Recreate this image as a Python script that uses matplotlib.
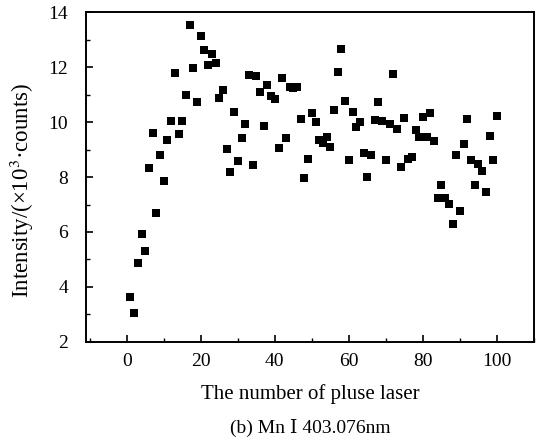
import matplotlib
matplotlib.use("Agg")
import matplotlib.pyplot as plt
from matplotlib.ticker import MultipleLocator

pulse = list(range(1, 101))
intensity = [
    3.64, 3.03, 4.88, 5.93, 5.30, 8.32, 9.60, 6.68, 8.81, 7.85,
    9.37, 10.04, 11.78, 9.58, 10.04, 11.00, 13.53, 11.96, 10.72, 13.14,
    12.64, 12.08, 12.49, 12.16, 10.89, 11.16, 9.01, 8.18, 10.38, 8.58,
    9.43, 9.92, 11.72, 8.44, 11.67, 11.11, 9.88, 11.34, 10.96, 10.84,
    9.06, 11.60, 9.41, 11.28, 11.26, 11.28, 10.10, 7.95, 8.67, 10.33,
    10.00, 9.36, 9.25, 9.46, 9.08, 10.43, 11.83, 12.67, 10.77, 8.64,
    10.38, 9.81, 10.01, 8.89, 8.00, 8.79, 10.07, 10.72, 10.05, 8.61,
    9.94, 11.76, 9.75, 8.35, 10.14, 8.67, 8.75, 9.71, 9.47, 10.20,
    9.47, 10.33, 9.32, 7.24, 7.71, 7.24, 7.03, 6.28, 8.80, 6.75,
    9.21, 10.11, 8.62, 7.70, 8.46, 8.24, 7.45, 9.48, 8.63, 10.21,
]
x_ticks = [0, 20, 40, 60, 80, 100]
y_ticks = [2, 4, 6, 8, 10, 12, 14]

serif = ['Liberation Serif', 'DejaVu Serif', 'Noto Sans CJK SC']
plt.rcParams['font.family'] = serif
plt.rcParams['mathtext.fontset'] = 'stix'

fig = plt.figure(figsize=(5.43, 4.44), dpi=100)
ax = fig.add_axes([86/543, 1 - 341.7/444, (534 - 86)/543, (341.7 - 12.5)/444])

ax.plot(pulse, intensity, linestyle='none', marker='s', ms=5.2,
        color='black', markeredgewidth=0)

ax.set_xlim(-11, 110)
ax.set_ylim(2, 14)
ax.set_xticks(x_ticks)
ax.set_yticks(y_ticks)
ax.xaxis.set_minor_locator(MultipleLocator(10))
ax.yaxis.set_minor_locator(MultipleLocator(1))
ax.tick_params(which='major', direction='in', length=5, width=1.2, labelsize=14)
ax.tick_params(axis='x', which='major', pad=8)
ax.tick_params(axis='y', which='major', pad=13)
ax.tick_params(which='minor', direction='in', length=3, width=1.0)
for s in ax.spines.values():
    s.set_linewidth(1.4)

ax.set_xlabel('The number of pluse laser', fontsize=15, labelpad=10)
ax.set_ylabel('Intensity/(×10$^3$·counts)', fontsize=16.5)
ax.yaxis.set_label_coords(-0.112, 0.46)
fig.text((86 + 534) / 2 / 543, 1 - 428/444, '(b) Mn Ⅰ 403.076nm',
         ha='center', va='center', fontsize=14, family=serif)

fig.savefig('out.png', dpi=100)
